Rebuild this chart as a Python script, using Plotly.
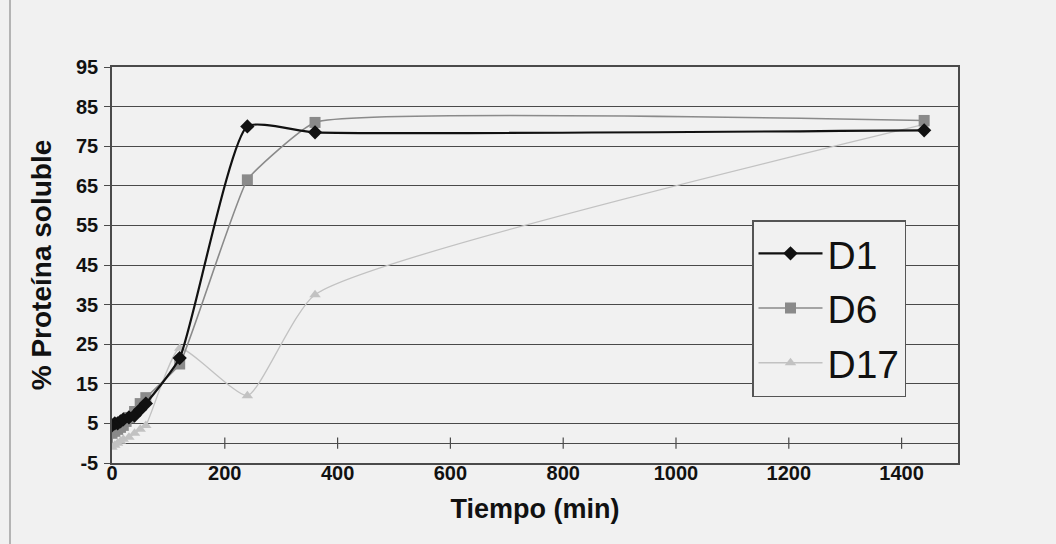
import plotly.graph_objects as go

# ---- data ----
t_d1 = [0, 5, 10, 15, 20, 30, 40, 50, 60, 120, 240, 360, 1440]
d1 = [4.5, 5.0, 5.0, 5.5, 6.0, 6.5, 7.0, 8.5, 10.0, 21.5, 80.0, 78.5, 79.0]

t_d6 = [0, 5, 10, 15, 20, 25, 30, 40, 50, 60, 120, 240, 360, 1440]
d6 = [2.5, 3.0, 3.5, 4.0, 4.5, 5.5, 6.5, 8.0, 10.0, 11.5, 20.0, 66.5, 81.0, 81.5]

t_d17 = [0, 5, 10, 15, 20, 30, 40, 50, 60, 120, 240, 360, 1440]
d17 = [-1.0, -0.5, 0.0, 0.5, 1.0, 1.5, 2.5, 3.5, 4.5, 24.0, 12.0, 37.5, 80.5]

x_ticks = [0, 200, 400, 600, 800, 1000, 1200, 1400]
y_ticks = [-5, 5, 15, 25, 35, 45, 55, 65, 75, 85, 95]

FONT = "Arial, Liberation Sans, sans-serif"
BG = "#f1f1f1"
GRID = "#4a4a4a"

fig = go.Figure()

# x-axis line crossing at y = 0 with its tick marks (Excel style)
fig.add_trace(go.Scatter(
    x=x_ticks, y=[0] * len(x_ticks), mode="markers",
    marker=dict(symbol="line-ns-open", size=8, color=GRID, line=dict(color=GRID, width=1.2)),
    showlegend=False, hoverinfo="skip"))

fig.add_trace(go.Scatter(
    x=t_d17, y=d17, name="D17", mode="lines+markers", legendgroup="c", legendrank=3,
    line=dict(color="#c2c2c2", width=1.3, shape="spline", smoothing=0.5),
    marker=dict(symbol="triangle-up", size=10, color="#c2c2c2")))
fig.add_trace(go.Scatter(
    x=t_d6, y=d6, name="D6", mode="lines+markers", legendgroup="b", legendrank=2,
    line=dict(color="#8a8a8a", width=1.6, shape="spline", smoothing=0.35),
    marker=dict(symbol="square", size=11, color="#8a8a8a")))
fig.add_trace(go.Scatter(
    x=t_d1, y=d1, name="D1", mode="lines+markers", legendgroup="a", legendrank=1,
    line=dict(color="#111111", width=2.2, shape="spline", smoothing=0.5),
    marker=dict(symbol="diamond", size=11, color="#111111")))

fig.update_layout(
    width=1056, height=544,
    margin=dict(l=112, r=98, t=67, b=81),
    paper_bgcolor=BG, plot_bgcolor=BG,
    font=dict(family=FONT, color="#111111"),
    showlegend=True,
    legend=dict(
        x=(752 - 112) / 846, y=1 - (220 - 67) / 396, xanchor="left", yanchor="top",
        traceorder="grouped", tracegroupgap=1,
        bgcolor=BG, bordercolor="#555555", borderwidth=1.5,
        font=dict(family=FONT, size=39, color="#111111"),
        itemwidth=64, entrywidth=91, entrywidthmode="pixels"),
    xaxis=dict(
        range=[0, 1500], tickvals=x_ticks, ticktext=[str(v) for v in x_ticks],
        showgrid=False, zeroline=False,
        showline=True, linecolor=GRID, linewidth=1.5, mirror=True,
        ticks="", ticklabelstandoff=-9,
        tickfont=dict(family=FONT, size=20, color="#111111", weight="bold"),
        title=dict(text="<b>Tiempo (min)</b>", font=dict(family=FONT, size=27, color="#111111"),
                   standoff=16),
        automargin=False),
    yaxis=dict(
        range=[-5, 95], tickvals=y_ticks, ticktext=[str(v) for v in y_ticks],
        showgrid=True, gridcolor=GRID, gridwidth=1.3,
        zeroline=True, zerolinecolor=GRID, zerolinewidth=1.3,
        showline=True, linecolor=GRID, linewidth=1.5, mirror=True,
        ticks="outside", ticklen=6, tickcolor=GRID, ticklabelstandoff=2,
        tickfont=dict(family=FONT, size=20, color="#111111", weight="bold"),
        title=dict(text="<b>% Proteína soluble</b>", font=dict(family=FONT, size=28, color="#111111"),
                   standoff=16),
        automargin=False),
    shapes=[dict(type="line", xref="paper", yref="paper",
                 x0=(10 - 112) / 846, x1=(10 - 112) / 846, y0=-0.21, y1=1.17,
                 line=dict(color="#8c8c8c", width=1.2))],
)

fig.write_html(
    "out.html",
    config={"displayModeBar": False},
    post_script="document.body.style.margin='0';document.body.style.background='%s';" % BG,
)
